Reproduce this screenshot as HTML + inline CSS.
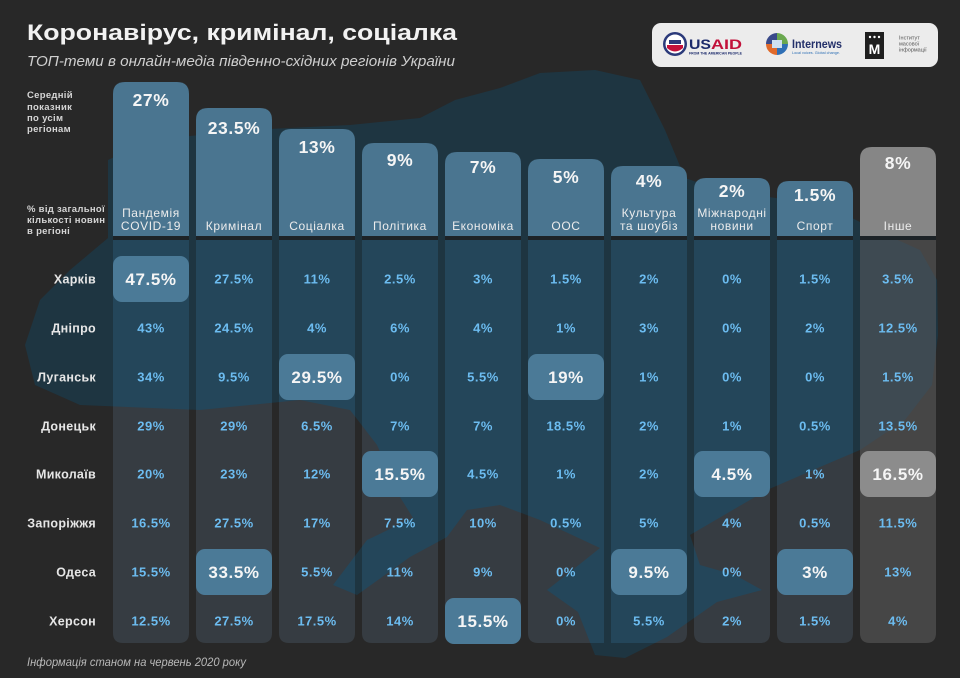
<!DOCTYPE html>
<html><head><meta charset="utf-8"><style>
html,body{margin:0;padding:0;background:#282828;}
svg{display:block;}
text{font-family:"Liberation Sans","DejaVu Sans",sans-serif;}
.cell{font-size:13px;font-weight:bold;fill:#6cbcf0;text-anchor:middle;letter-spacing:0.5px;}
.hl{font-size:17px;font-weight:bold;fill:#f5f5f5;text-anchor:middle;letter-spacing:0.6px;}
.hp{font-size:17.5px;font-weight:bold;fill:#f5f5f5;text-anchor:middle;letter-spacing:0.6px;}
.lab{font-size:12px;fill:#ececec;text-anchor:middle;letter-spacing:0.6px;}
.row{font-size:12.5px;font-weight:bold;fill:#e6e6e6;text-anchor:end;letter-spacing:0.3px;}
.side{font-size:9.5px;font-weight:bold;fill:#d6d6d6;letter-spacing:0.3px;}
</style></head><body>
<svg width="960" height="678" viewBox="0 0 960 678" xmlns="http://www.w3.org/2000/svg">
<defs>
<clipPath id="mapclip"><polygon points="25,345 40,300 70,270 108,238 108,160 150,140 250,130 350,125 420,118 455,100 500,88 540,73 595,70 640,80 665,130 685,178 720,190 790,200 840,212 880,232 920,250 937,280 938,335 932,385 905,420 860,450 820,467 767,490 690,535 700,565 735,575 762,590 717,602 667,637 625,658 595,655 578,612 547,590 570,572 600,548 540,520 500,505 467,510 447,537 410,557 357,595 333,585 367,540 413,518 400,497 377,445 350,410 300,400 200,410 80,405 35,385"/></clipPath>
</defs>
<rect x="0" y="0" width="960" height="678" fill="#282828"/>
<!-- map -->
<polygon fill="#1e3541" points="25,345 40,300 70,270 108,238 108,160 150,140 250,130 350,125 420,118 455,100 500,88 540,73 595,70 640,80 665,130 685,178 720,190 790,200 840,212 880,232 920,250 937,280 938,335 932,385 905,420 860,450 820,467 767,490 690,535 700,565 735,575 762,590 717,602 667,637 625,658 595,655 578,612 547,590 570,572 600,548 540,520 500,505 467,510 447,537 410,557 357,595 333,585 367,540 413,518 400,497 377,445 350,410 300,400 200,410 80,405 35,385"/>

<!-- strips (outside map) -->
<g fill="#363c42">
<path d="M113,236 H189 V633 Q189,643 179,643 H123 Q113,643 113,633 Z"/>
<path d="M196,236 H272 V633 Q272,643 262,643 H206 Q196,643 196,633 Z"/>
<path d="M279,236 H355 V633 Q355,643 345,643 H289 Q279,643 279,633 Z"/>
<path d="M362,236 H438 V633 Q438,643 428,643 H372 Q362,643 362,633 Z"/>
<path d="M445,236 H521 V633 Q521,643 511,643 H455 Q445,643 445,633 Z"/>
<path d="M528,236 H604 V633 Q604,643 594,643 H538 Q528,643 528,633 Z"/>
<path d="M611,236 H687 V633 Q687,643 677,643 H621 Q611,643 611,633 Z"/>
<path d="M694,236 H770 V633 Q770,643 760,643 H704 Q694,643 694,633 Z"/>
<path d="M777,236 H853 V633 Q853,643 843,643 H787 Q777,643 777,633 Z"/>
</g>
<path fill="#464646" d="M860,236 H936 V633 Q936,643 926,643 H870 Q860,643 860,633 Z"/>
<!-- strips inside map -->
<g clip-path="url(#mapclip)">
<g fill="#24465a">
<rect x="113" y="236" width="76" height="407"/>
<rect x="196" y="236" width="76" height="407"/>
<rect x="279" y="236" width="76" height="407"/>
<rect x="362" y="236" width="76" height="407"/>
<rect x="445" y="236" width="76" height="407"/>
<rect x="528" y="236" width="76" height="407"/>
<rect x="611" y="236" width="76" height="407"/>
<rect x="694" y="236" width="76" height="407"/>
<rect x="777" y="236" width="76" height="407"/>
</g>
<rect x="860" y="236" width="76" height="407" fill="#3e4a52"/>
</g>

<!-- header bars -->
<g fill="#4a7590">
<path d="M113,236 V94 Q113,82 125,82 H177 Q189,82 189,94 V236 Z"/>
<path d="M196,236 V120 Q196,108 208,108 H260 Q272,108 272,120 V236 Z"/>
<path d="M279,236 V141 Q279,129 291,129 H343 Q355,129 355,141 V236 Z"/>
<path d="M362,236 V155 Q362,143 374,143 H426 Q438,143 438,155 V236 Z"/>
<path d="M445,236 V164 Q445,152 457,152 H509 Q521,152 521,164 V236 Z"/>
<path d="M528,236 V171 Q528,159 540,159 H592 Q604,159 604,171 V236 Z"/>
<path d="M611,236 V178 Q611,166 623,166 H675 Q687,166 687,178 V236 Z"/>
<path d="M694,236 V190 Q694,178 706,178 H758 Q770,178 770,190 V236 Z"/>
<path d="M777,236 V193 Q777,181 789,181 H841 Q853,181 853,193 V236 Z"/>
</g>
<path fill="#868686" d="M860,236 V159 Q860,147 872,147 H924 Q936,147 936,159 V236 Z"/>
<!-- dark band -->
<g fill="#1d2327">
<rect x="113" y="236" width="76" height="4"/><rect x="196" y="236" width="76" height="4"/><rect x="279" y="236" width="76" height="4"/><rect x="362" y="236" width="76" height="4"/><rect x="445" y="236" width="76" height="4"/><rect x="528" y="236" width="76" height="4"/><rect x="611" y="236" width="76" height="4"/><rect x="694" y="236" width="76" height="4"/><rect x="777" y="236" width="76" height="4"/><rect x="860" y="236" width="76" height="4"/>
</g>

<!-- header percents -->
<text class="hp" x="151" y="106">27%</text>
<text class="hp" x="234" y="134">23.5%</text>
<text class="hp" x="317" y="153">13%</text>
<text class="hp" x="400" y="166">9%</text>
<text class="hp" x="483" y="173">7%</text>
<text class="hp" x="566" y="183">5%</text>
<text class="hp" x="649" y="187">4%</text>
<text class="hp" x="732" y="197">2%</text>
<text class="hp" x="815" y="201">1.5%</text>
<text class="hp" x="898" y="169">8%</text>

<!-- header labels -->
<text class="lab" x="151" y="217">Пандемія</text>
<text class="lab" x="151" y="230">COVID-19</text>
<text class="lab" x="234" y="230">Кримінал</text>
<text class="lab" x="317" y="230">Соціалка</text>
<text class="lab" x="400" y="230">Політика</text>
<text class="lab" x="483" y="230">Економіка</text>
<text class="lab" x="566" y="230">ООС</text>
<text class="lab" x="649" y="217">Культура</text>
<text class="lab" x="649" y="230">та шоубіз</text>
<text class="lab" x="732" y="217">Міжнародні</text>
<text class="lab" x="732" y="230">новини</text>
<text class="lab" x="815" y="230">Спорт</text>
<text class="lab" x="898" y="230">Інше</text>

<!-- highlights -->
<g fill="#4b7a97">
<rect x="113" y="256" width="76" height="46" rx="9"/>
<rect x="279" y="354" width="76" height="46" rx="9"/>
<rect x="528" y="354" width="76" height="46" rx="9"/>
<rect x="362" y="451" width="76" height="46" rx="9"/>
<rect x="694" y="451" width="76" height="46" rx="9"/>
<rect x="196" y="549" width="76" height="46" rx="9"/>
<rect x="611" y="549" width="76" height="46" rx="9"/>
<rect x="777" y="549" width="76" height="46" rx="9"/>
<rect x="445" y="598" width="76" height="46" rx="9"/>
</g>
<rect x="860" y="451" width="76" height="46" rx="9" fill="#8c8c8c"/>

<!-- title -->
<text x="27" y="40" font-size="22" font-weight="bold" fill="#f2f2f2" textLength="430" lengthAdjust="spacingAndGlyphs">Коронавірус, кримінал, соціалка</text>
<text x="27" y="66" font-size="14.5" font-style="italic" fill="#cfcfcf" textLength="428" lengthAdjust="spacingAndGlyphs">ТОП-теми в онлайн-медіа південно-східних регіонів України</text>

<!-- side labels -->
<text class="side" x="27" y="98">Середній</text>
<text class="side" x="27" y="110">показник</text>
<text class="side" x="27" y="121">по усім</text>
<text class="side" x="27" y="132">регіонам</text>
<text class="side" x="27" y="212">% від загальної</text>
<text class="side" x="27" y="223">кількості новин</text>
<text class="side" x="27" y="234">в регіоні</text>

<!-- row labels -->
<text class="row" x="96" y="283.5">Харків</text>
<text class="row" x="96" y="332.5">Дніпро</text>
<text class="row" x="96" y="381.5">Луганськ</text>
<text class="row" x="96" y="430.5">Донецьк</text>
<text class="row" x="96" y="478.5">Миколаїв</text>
<text class="row" x="96" y="527.5">Запоріжжя</text>
<text class="row" x="96" y="576.5">Одеса</text>
<text class="row" x="96" y="625.5">Херсон</text>

<!-- Row 1 Харків -->
<text class="hl" x="151" y="285">47.5%</text>
<text class="cell" x="234" y="283.5">27.5%</text>
<text class="cell" x="317" y="283.5">11%</text>
<text class="cell" x="400" y="283.5">2.5%</text>
<text class="cell" x="483" y="283.5">3%</text>
<text class="cell" x="566" y="283.5">1.5%</text>
<text class="cell" x="649" y="283.5">2%</text>
<text class="cell" x="732" y="283.5">0%</text>
<text class="cell" x="815" y="283.5">1.5%</text>
<text class="cell" x="898" y="283.5">3.5%</text>
<!-- Row 2 Дніпро -->
<text class="cell" x="151" y="332.5">43%</text>
<text class="cell" x="234" y="332.5">24.5%</text>
<text class="cell" x="317" y="332.5">4%</text>
<text class="cell" x="400" y="332.5">6%</text>
<text class="cell" x="483" y="332.5">4%</text>
<text class="cell" x="566" y="332.5">1%</text>
<text class="cell" x="649" y="332.5">3%</text>
<text class="cell" x="732" y="332.5">0%</text>
<text class="cell" x="815" y="332.5">2%</text>
<text class="cell" x="898" y="332.5">12.5%</text>
<!-- Row 3 Луганськ -->
<text class="cell" x="151" y="381.5">34%</text>
<text class="cell" x="234" y="381.5">9.5%</text>
<text class="hl" x="317" y="383">29.5%</text>
<text class="cell" x="400" y="381.5">0%</text>
<text class="cell" x="483" y="381.5">5.5%</text>
<text class="hl" x="566" y="383">19%</text>
<text class="cell" x="649" y="381.5">1%</text>
<text class="cell" x="732" y="381.5">0%</text>
<text class="cell" x="815" y="381.5">0%</text>
<text class="cell" x="898" y="381.5">1.5%</text>
<!-- Row 4 Донецьк -->
<text class="cell" x="151" y="430.5">29%</text>
<text class="cell" x="234" y="430.5">29%</text>
<text class="cell" x="317" y="430.5">6.5%</text>
<text class="cell" x="400" y="430.5">7%</text>
<text class="cell" x="483" y="430.5">7%</text>
<text class="cell" x="566" y="430.5">18.5%</text>
<text class="cell" x="649" y="430.5">2%</text>
<text class="cell" x="732" y="430.5">1%</text>
<text class="cell" x="815" y="430.5">0.5%</text>
<text class="cell" x="898" y="430.5">13.5%</text>
<!-- Row 5 Миколаїв -->
<text class="cell" x="151" y="478.5">20%</text>
<text class="cell" x="234" y="478.5">23%</text>
<text class="cell" x="317" y="478.5">12%</text>
<text class="hl" x="400" y="480">15.5%</text>
<text class="cell" x="483" y="478.5">4.5%</text>
<text class="cell" x="566" y="478.5">1%</text>
<text class="cell" x="649" y="478.5">2%</text>
<text class="hl" x="732" y="480">4.5%</text>
<text class="cell" x="815" y="478.5">1%</text>
<text class="hl" x="898" y="480">16.5%</text>
<!-- Row 6 Запоріжжя -->
<text class="cell" x="151" y="527.5">16.5%</text>
<text class="cell" x="234" y="527.5">27.5%</text>
<text class="cell" x="317" y="527.5">17%</text>
<text class="cell" x="400" y="527.5">7.5%</text>
<text class="cell" x="483" y="527.5">10%</text>
<text class="cell" x="566" y="527.5">0.5%</text>
<text class="cell" x="649" y="527.5">5%</text>
<text class="cell" x="732" y="527.5">4%</text>
<text class="cell" x="815" y="527.5">0.5%</text>
<text class="cell" x="898" y="527.5">11.5%</text>
<!-- Row 7 Одеса -->
<text class="cell" x="151" y="576.5">15.5%</text>
<text class="hl" x="234" y="578">33.5%</text>
<text class="cell" x="317" y="576.5">5.5%</text>
<text class="cell" x="400" y="576.5">11%</text>
<text class="cell" x="483" y="576.5">9%</text>
<text class="cell" x="566" y="576.5">0%</text>
<text class="hl" x="649" y="578">9.5%</text>
<text class="cell" x="732" y="576.5">0%</text>
<text class="hl" x="815" y="578">3%</text>
<text class="cell" x="898" y="576.5">13%</text>
<!-- Row 8 Херсон -->
<text class="cell" x="151" y="625.5">12.5%</text>
<text class="cell" x="234" y="625.5">27.5%</text>
<text class="cell" x="317" y="625.5">17.5%</text>
<text class="cell" x="400" y="625.5">14%</text>
<text class="hl" x="483" y="627">15.5%</text>
<text class="cell" x="566" y="625.5">0%</text>
<text class="cell" x="649" y="625.5">5.5%</text>
<text class="cell" x="732" y="625.5">2%</text>
<text class="cell" x="815" y="625.5">1.5%</text>
<text class="cell" x="898" y="625.5">4%</text>

<!-- footer -->
<text x="27" y="666" font-size="11.5" font-style="italic" fill="#b8b8b8" textLength="219" lengthAdjust="spacingAndGlyphs">Інформація станом на червень 2020 року</text>

<!-- logos box -->
<rect x="652" y="23" width="286" height="44" rx="9" fill="#ececec"/>
<!-- USAID seal -->
<circle cx="675" cy="44" r="12" fill="#2b3a7a"/>
<circle cx="675" cy="44" r="9.5" fill="#ffffff"/>
<path d="M667,45 H683 V48 Q675,55 667,48 Z" fill="#c2113a"/>
<rect x="669" y="40" width="12" height="4" fill="#2b3a7a"/>
<text x="689" y="49" font-size="14" font-weight="bold" fill="#1b2a6b" textLength="22" lengthAdjust="spacingAndGlyphs">US</text>
<text x="711" y="49" font-size="14" font-weight="bold" fill="#c2113a" textLength="31" lengthAdjust="spacingAndGlyphs">AID</text>
<text x="689" y="54.5" font-size="3.6" font-weight="bold" fill="#1b2a6b" textLength="53" lengthAdjust="spacingAndGlyphs">FROM THE AMERICAN PEOPLE</text>
<!-- Internews -->
<path d="M777,44 L777,33 A11,11 0 0 1 788,44 Z" fill="#6aa84f"/>
<path d="M777,44 L788,44 A11,11 0 0 1 777,55 Z" fill="#2f6fb5"/>
<path d="M777,44 L777,55 A11,11 0 0 1 766,44 Z" fill="#e06a2b"/>
<path d="M777,44 L766,44 A11,11 0 0 1 777,33 Z" fill="#3a4a8a"/>
<rect x="772" y="40" width="10" height="8" fill="#cfe0f0"/>
<text x="792" y="48" font-size="11.5" font-weight="bold" fill="#23306a" textLength="50" lengthAdjust="spacingAndGlyphs">Internews</text>
<text x="792" y="54" font-size="4" fill="#2d6fb5" textLength="48" lengthAdjust="spacingAndGlyphs">Local voices. Global change.</text>
<!-- IMI -->
<rect x="865" y="32" width="19" height="27" fill="#1f1f1f"/>
<circle cx="870" cy="37" r="1.2" fill="#fff"/><circle cx="874.5" cy="37" r="1.2" fill="#fff"/><circle cx="879" cy="37" r="1.2" fill="#fff"/>
<text x="874.5" y="54" font-size="14" font-weight="bold" fill="#ffffff" text-anchor="middle">М</text>
<text x="899" y="39.5" font-size="5.5" fill="#555">Інститут</text>
<text x="899" y="45.5" font-size="5.5" fill="#555">масової</text>
<text x="899" y="51.5" font-size="5.5" fill="#555">інформації</text>
</svg>
</body></html>
